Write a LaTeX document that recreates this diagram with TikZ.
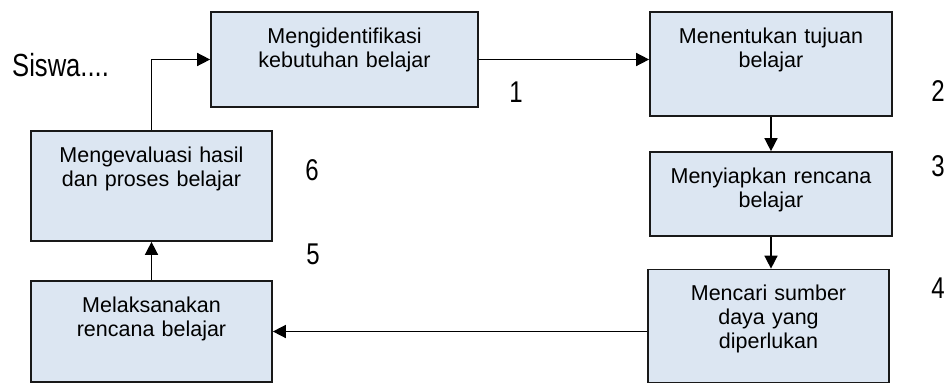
\documentclass[tikz,border=0pt]{standalone}
\usepackage{fontspec}
\setmainfont{Liberation Sans}
\newfontfamily\narrowfont[FakeStretch=0.8]{Liberation Sans}
\usetikzlibrary{arrows.meta}
\definecolor{boxfill}{RGB}{220,230,242}
\definecolor{boxline}{RGB}{25,25,25}
\tikzset{
  box/.style={draw=boxline, fill=boxfill, line width=1.7pt, inner sep=0pt,
    align=center, text height=31pt,
    font=\fontsize{21.5}{24}\selectfont},
  arr/.style={line width=1.5pt, -{Triangle[length=13pt,width=13pt]}},
  num/.style={font=\narrowfont\fontsize{30}{32}\selectfont, inner sep=0pt}
}
\begin{document}
\begin{tikzpicture}[x=1pt,y=-1pt]
\useasboundingbox (0,0) rectangle (946,383);
\node[box, text width=267pt, text depth=64pt] (b1) at (344.5,59.5) {Mengidentifikasi\\kebutuhan belajar};
\node[box, text width=242pt, text depth=73pt] (b2) at (771,64) {Menentukan tujuan\\belajar};
\node[box, text width=242pt, text depth=53pt] (b3) at (771,194) {Menyiapkan rencana\\belajar};
\node[box, text width=241pt, text depth=82pt] (b4) at (768.5,326) {Mencari sumber\\daya yang\\diperlukan};
\node[box, text width=241pt, text depth=79pt] (b6) at (151.5,186) {Mengevaluasi hasil\\dan proses belajar};
\node[box, text width=241pt, text depth=70pt] (b5) at (151.5,331.5) {Melaksanakan\\rencana belajar};

\draw[arr] (b6.north) |- (b1.west);
\draw[arr] (b1.east) -- (b1.east -| b2.west);
\draw[arr] (b2.south) -- (b3.north);
\draw[arr] (b3.south) -- (b3.south |- b4.north);
\draw[arr] (b4.west |- b5.east) -- (b5.east);
\draw[arr] (b5.north) -- (b6.south);

\node[anchor=base west, inner sep=0pt, font=\narrowfont\fontsize{32}{34}\selectfont] (siswa) at (12,76) {Siswa....};
\node[num] (l1) at (516,92) {1};
\node[num] (l2) at (938,91) {2};
\node[num] (l3) at (938,166) {3};
\node[num] (l4) at (938,288) {4};
\node[num] (l6) at (312,170) {6};
\node[num] (l5) at (313,254) {5};
\end{tikzpicture}
\end{document}
